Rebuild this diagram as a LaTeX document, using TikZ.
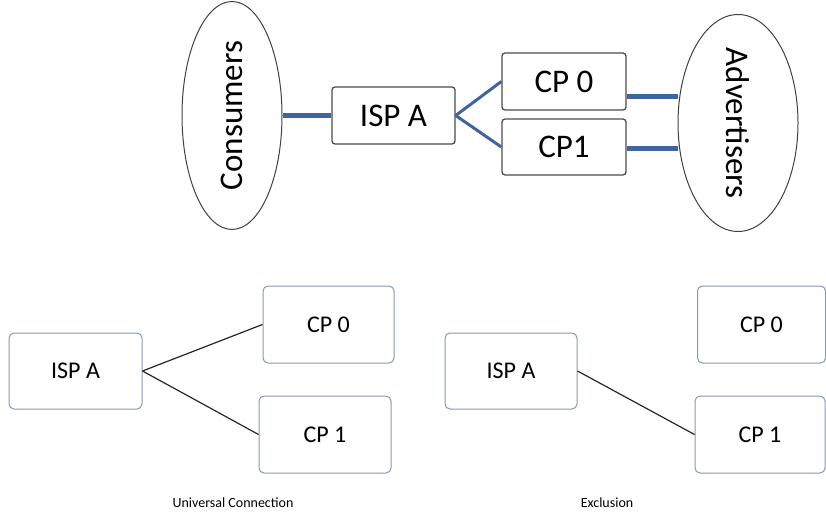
\documentclass[tikz,border=0pt]{standalone}
\usepackage{fontspec}
\setmainfont{Carlito}
\usetikzlibrary{shapes.geometric}

\definecolor{linkblue}{HTML}{4064A0}
\definecolor{boxblue}{HTML}{8497B8}

\tikzset{
  market/.style={ellipse,draw=black!75,line width=1pt,inner sep=0pt,
    font=\fontsize{33}{36}\selectfont},
  firmbox/.style={rectangle,rounded corners=3pt,draw=black!70,line width=1.3pt,
    minimum width=123pt,minimum height=57pt,inner sep=0pt,
    font=\fontsize{33}{36}\selectfont},
  plainbox/.style={rectangle,rounded corners=5pt,draw=boxblue,line width=1pt,
    minimum height=77pt,inner sep=0pt,font=\fontsize{24}{28}\selectfont},
  heavylink/.style={draw=linkblue,line width=5pt},
  lightlink/.style={draw=linkblue,line width=3pt},
  thinlink/.style={draw=black!85,line width=1.2pt},
  caption/.style={font=\fontsize{14}{16}\selectfont,text=black}
}

\begin{document}
\begin{tikzpicture}[x=1pt,y=1pt,line cap=butt,line join=round]
  \useasboundingbox (0,-518) rectangle (826,0);

  % Top: market picture
  \node[market,minimum width=228pt,minimum height=100pt,rotate=90] (Consumers) at (232,-115.5) {Consumers};
  \node[market,minimum width=217pt,minimum height=120pt,rotate=-90] (Advertisers) at (738,-123) {Advertisers};
  \node[firmbox] (ISPtop) at (393.5,-115.5) {ISP A};
  \node[firmbox,minimum width=124pt] (CPtopA) at (564,-81.5) {CP 0};
  \node[firmbox,minimum width=124pt,minimum height=56pt] (CPtopB) at (564,-147) {CP1};

  \draw[heavylink] (Consumers.south) -- (Consumers.south -| ISPtop.west);
  \draw[lightlink] (ISPtop.east) -- (CPtopA.west);
  \draw[lightlink] (ISPtop.east) -- (CPtopB.west);
  \draw[heavylink] ([yshift=-15.5pt]CPtopA.east) -- ([yshift=-15.5pt]CPtopA.east -| Advertisers.south);
  \draw[heavylink] ([yshift=-2pt]CPtopB.east) -- ([yshift=-2pt]CPtopB.east -| Advertisers.south);

  % Bottom left: universal connection
  \node[plainbox,minimum width=133pt,minimum height=76pt] (ISPuni) at (75.5,-371) {ISP A};
  \node[plainbox,minimum width=131pt] (CPuniA) at (328.5,-324.5) {CP 0};
  \node[plainbox,minimum width=132pt] (CPuniB) at (325,-434.5) {CP 1};
  \draw[thinlink] (ISPuni.east) -- (CPuniA.west);
  \draw[thinlink] (ISPuni.east) -- (CPuniB.west);
  \node[caption] (uniText) at (233,-503) {Universal Connection};

  % Bottom right: exclusion
  \node[plainbox,minimum width=132pt,minimum height=76pt] (ISPexc) at (511,-371) {ISP A};
  \node[plainbox,minimum width=128pt] (CPexcA) at (761.5,-324.5) {CP 0};
  \node[plainbox,minimum width=130pt] (CPexcB) at (760,-434.5) {CP 1};
  \draw[thinlink] (ISPexc.east) -- (CPexcB.west);
  \node[caption] (excText) at (607,-503) {Exclusion};
\end{tikzpicture}
\end{document}
